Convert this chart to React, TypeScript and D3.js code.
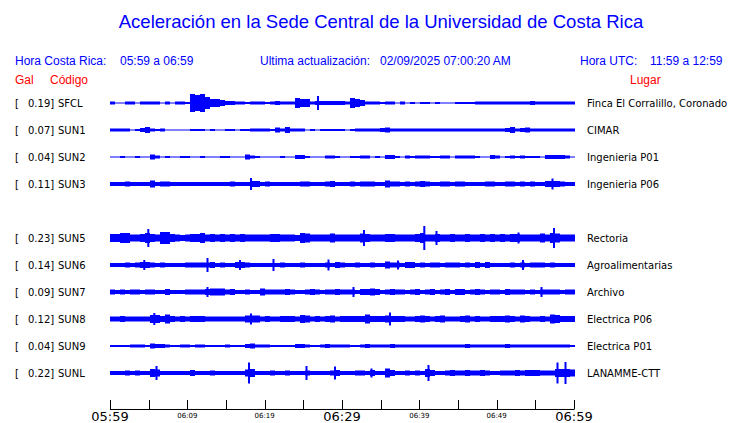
import React from "react";
import * as d3 from "d3";

const title = "Aceleración en la Sede Central de la Universidad de Costa Rica";
const codes = ["SFCL", "SUN1", "SUN2", "SUN3", "SUN5", "SUN6", "SUN7", "SUN8", "SUN9", "SUNL"];
const galValues = ["0.19", "0.07", "0.04", "0.11", "0.23", "0.14", "0.09", "0.12", "0.04", "0.22"];
const places = [
  "Finca El Corralillo, Coronado",
  "CIMAR",
  "Ingenieria P01",
  "Ingenieria P06",
  "Rectoria",
  "Agroalimentarias",
  "Archivo",
  "Electrica P06",
  "Electrica P01",
  "LANAMME-CTT",
];
const slots = [0, 1, 2, 3, 5, 6, 7, 8, 9, 10];

// Envelope per trace: one char per time column (93 columns), value = band thickness in px (base 36)
const envelopes = [
  "3113313333 131332igic 8864433233 3234333a88 34444443a8 6333233131 2122121112 2223333333 3333433333 333",
  "3333124632 3111112221 2112212233 3325363331 2122222123 3333453333 3333333333 3333333334 6345333333 333",
  "1121121153 1211221121 1122111532 1111211442 1113321122 3312144213 2333223313 3332114312 3232221444 431",
  "4445444474 5544444444 4444544466 4544444455 4445644454 5554475545 4565445545 5444455445 5454544666 544",
  "88aa778a87 cc876788a7 8787878777 77887776a9 7777977777 9877788777 78a7787787 7877878787 88777797a9 777",
  "4445456654 5444455555 6454466544 4444544454 4445465445 4454475546 6454554555 4546464444 5454555454 444",
  "5454554554 4644455556 7775644544 7555565445 6545565554 6676456554 5645645646 6456545546 5554545555 455",
  "5565555588 6965656665 5555555777 5655666587 5656756666 6966676665 5676567555 6756556667 6576556598 666",
  "2222333254 4322332332 2223222453 3322222443 2234333322 3433334333 3333333333 3433333334 3333333333 332",
  "4445454487 4444446444 5444444784 4454454445 4444564445 5464496445 4548644565 5655654455 5656665558 887",
];

// Narrow spikes: trace index, column position, total height in px
const spikeTrace = [0, 3, 3, 4, 4, 4, 4, 4, 4, 5, 5, 5, 5, 5, 5, 5, 6, 6, 6, 7, 7, 7, 9, 9, 9, 9, 9, 9, 9, 9];
const spikeCol = [41.6, 28.2, 88.5, 7.66, 50.8, 62.86, 65.3, 81.7, 88.8, 6.86, 19.5, 26, 32.7, 43.7, 57.6, 82.6, 19.5, 48.7, 86.3, 8.86, 28.2, 56, 9.3, 27.8, 39.3, 45, 52.3, 63.7, 89.5, 91.1];
const spikeSize = [14, 12, 11, 18, 16, 24, 14, 11, 20, 10, 14, 10, 12, 11, 9, 10, 10, 10, 10, 12, 11, 13, 14, 21, 14, 13, 9, 16, 21, 22];

const minuteTicks = d3.range(0, 61, 5);
const tickLabels = ["05:59", "06:09", "06:19", "06:29", "06:39", "06:49", "06:59"];
const labelMinutes = [0, 10, 20, 30, 40, 50, 60];
const bigLabels = ["05:59", "06:29", "06:59"];

const COLS = 93;
const xCol = d3.scaleLinear().domain([0, COLS]).range([110, 575]);
const xTime = d3.scaleLinear().domain([0, 60]).range([110, 574]);
const yRow = d3.scaleLinear().domain([0, 10]).range([103, 373]);

function tracePath(env: string, base: number) {
  const vals = env.replace(/\s/g, "").slice(0, COLS).split("").map((c) => parseInt(c, 36));
  while (vals.length < COLS) vals.push(vals[vals.length - 1]);
  const pts = vals.map((v, i) => ({ i, h: Math.max(1, v) / 2 }));
  pts.push({ i: COLS, h: pts[pts.length - 1].h });
  const area = d3
    .area<{ i: number; h: number }>()
    .x((d) => xCol(d.i))
    .y0((d) => base + d.h)
    .y1((d) => base - d.h)
    .curve(d3.curveStepAfter);
  return area(pts) || "";
}

const BLUE = "#0000ff";
const RED = "#ff0000";
const sans = "'Liberation Sans', Arial, sans-serif";
const dv = "'DejaVu Sans', sans-serif";

export default function App() {
  return (
    <svg width={740} height={423} style={{ position: "absolute", left: 0, top: 0, background: "#fff" }}>
      <rect width={740} height={423} fill="#fff" />
      <text x={381} y={28} textAnchor="middle" fontFamily={sans} fontSize={18.5} fill={BLUE}>
        {title}
      </text>
      <g fontFamily={sans} fontSize={12} fill={BLUE}>
        <text x={15} y={65}>Hora Costa Rica:</text>
        <text x={120} y={65}>05:59 a 06:59</text>
        <text x={260} y={65}>Ultima actualización:</text>
        <text x={380} y={65}>02/09/2025 07:00:20 AM</text>
        <text x={580} y={65}>Hora UTC:</text>
        <text x={650} y={65}>11:59 a 12:59</text>
      </g>
      <g fontFamily={sans} fontSize={12} fill={RED}>
        <text x={15} y={84}>Gal</text>
        <text x={50} y={84}>Código</text>
        <text x={630} y={84}>Lugar</text>
      </g>
      {codes.map((code, k) => {
        const y = yRow(slots[k]);
        return (
          <g key={code}>
            <g fontFamily={dv} fontSize={10} fill="#000">
              <text x={15} y={y + 4}>[</text>
              <text x={28} y={y + 4}>{galValues[k]}]</text>
              <text x={58} y={y + 4}>{code}</text>
              <text x={587} y={y + 4}>{places[k]}</text>
            </g>
            <path d={tracePath(envelopes[k], y)} fill={BLUE} />
          </g>
        );
      })}
      {spikeTrace.map((t, k) => {
        const y = yRow(slots[t]);
        const x = xCol(spikeCol[k]);
        return <rect key={k} x={x - 1} y={y - spikeSize[k] / 2} width={2} height={spikeSize[k]} fill={BLUE} />;
      })}
      <g>
        <line x1={xTime(0)} x2={xTime(60)} y1={409.5} y2={409.5} stroke="#000" strokeWidth={1} />
        {minuteTicks.map((m) => (
          <line key={m} x1={Math.round(xTime(m)) + 0.5} x2={Math.round(xTime(m)) + 0.5} y1={400} y2={409.5} stroke="#000" strokeWidth={1} />
        ))}
        {tickLabels.map((lab, k) => {
          const big = bigLabels.includes(lab);
          return (
            <text
              key={lab}
              x={xTime(labelMinutes[k])}
              y={big ? 421 : 418}
              textAnchor="middle"
              fontFamily={dv}
              fontSize={big ? 13 : 7}
              fill="#000"
            >
              {lab}
            </text>
          );
        })}
      </g>
    </svg>
  );
}
